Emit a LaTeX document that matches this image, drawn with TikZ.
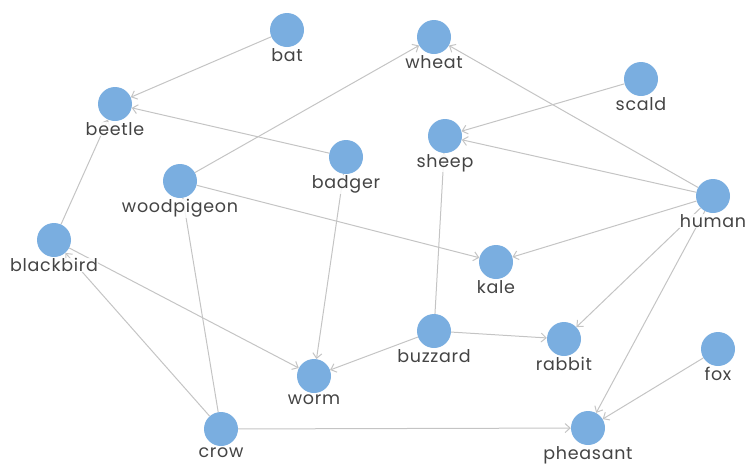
\documentclass[tikz,border=0pt]{standalone}
\usepackage{fontspec}
\setmainfont{Poppins}[LetterSpace=4]
\usepackage{tikz}
\usetikzlibrary{arrows.meta,backgrounds}

\definecolor{nodeblue}{HTML}{7AAEE0}
\definecolor{edgegray}{HTML}{C4C4C4}
\definecolor{textgray}{HTML}{444444}

\begin{document}
\begin{tikzpicture}[x=1pt, y=-1pt, >={Straight Barb[length=5pt,width=9pt]},
    animal/.style={circle, fill=nodeblue, minimum size=34pt, inner sep=0pt,
        label={[text=textgray, font=\fontsize{17.5}{17.5}\selectfont, fill=white, fill opacity=0.85, text opacity=1, inner sep=0.5pt, label distance=0.5pt]below:#1}},
    link/.style={->, draw=edgegray, line width=1pt}]
    \useasboundingbox (0,0) rectangle (750,464);

    \node[animal=bat] (bat) at (287,30) {};
    \node[animal=wheat] (wheat) at (434,37) {};
    \node[animal=scald] (scald) at (641,79) {};
    \node[animal=beetle] (beetle) at (115,104) {};
    \node[animal=sheep] (sheep) at (445,136) {};
    \node[animal=badger] (badger) at (346,157) {};
    \node[animal=woodpigeon] (woodpigeon) at (180,181) {};
    \node[animal=human] (human) at (713,196) {};
    \node[animal=blackbird] (blackbird) at (54,240) {};
    \node[animal=kale] (kale) at (496,262) {};
    \node[animal=buzzard] (buzzard) at (434,331) {};
    \node[animal=rabbit] (rabbit) at (564,339) {};
    \node[animal=fox] (fox) at (718,349) {};
    \node[animal=worm] (worm) at (314,376) {};
    \node[animal=crow] (crow) at (221,429) {};
    \node[animal=pheasant] (pheasant) at (588,428) {};

    \begin{scope}[on background layer]
    \path[link]
        (bat) edge (beetle)
        (badger) edge (beetle)
        (blackbird) edge (beetle)
        (woodpigeon) edge (wheat)
        (woodpigeon) edge (kale)
        (crow) edge (woodpigeon)
        (badger) edge (worm)
        (blackbird) edge (worm)
        (crow) edge (blackbird)
        (crow) edge (pheasant)
        (buzzard) edge (worm)
        (buzzard) edge (rabbit)
        (buzzard) edge (sheep)
        (scald) edge (sheep)
        (human) edge (sheep)
        (human) edge (wheat)
        (human) edge (kale)
        (human) edge (rabbit)
        (human) edge (pheasant)
        (fox) edge (pheasant);
    \end{scope}
\end{tikzpicture}
\end{document}
